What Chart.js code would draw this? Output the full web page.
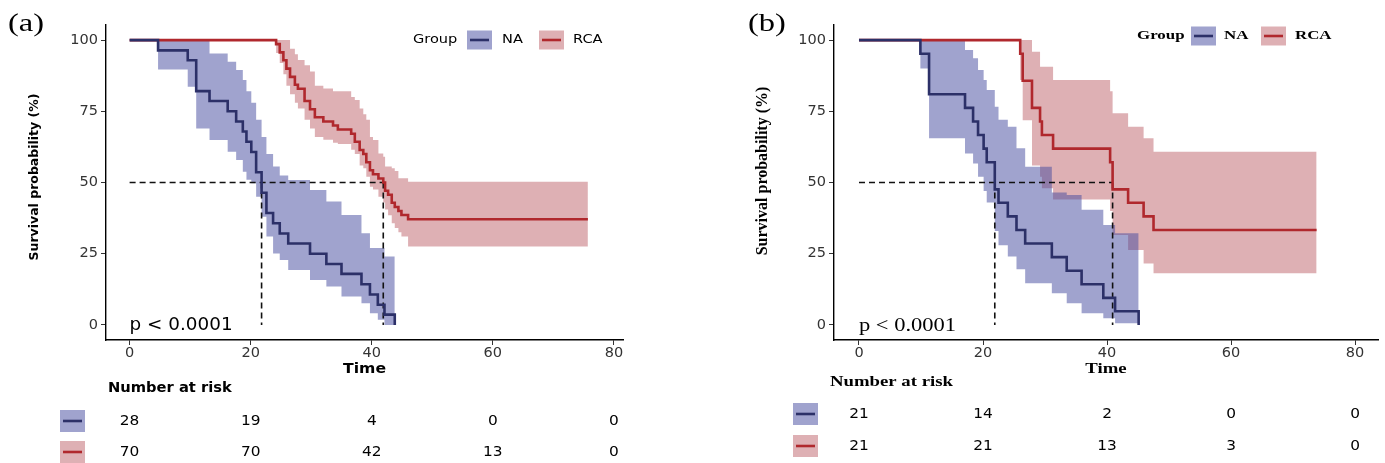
<!DOCTYPE html>
<html>
<head>
<meta charset="utf-8">
<script src="https://cdn.jsdelivr.net/npm/chart.js@4.4.1/dist/chart.umd.min.js"></script>
<style>
  body { margin: 0; background: #fff; }
  #wrap { position: relative; width: 1385px; height: 463px; overflow: hidden; }
  canvas { position: absolute; top: 0; }
</style>
</head>
<body>
<div id="wrap">
  <canvas id="chartA" width="692" height="463" style="left:0"></canvas>
  <canvas id="chartB" width="693" height="463" style="left:692px"></canvas>
</div>
<script>
const xTicks = [0, 20, 40, 60, 80];
const yTicks = [0, 25, 50, 75, 100];
const groups = ["NA", "RCA"];

// panel (a)
const aNaTime = [0, 4.7, 9.6, 11.0, 13.2, 16.2, 17.6, 18.7, 19.3, 20.1, 20.9, 21.8, 22.6, 23.7, 24.8, 26.2, 29.8, 32.5, 35.0, 38.3, 39.7, 41.0, 42.1, 43.8];
const aNaSurv = [100, 96.4, 92.9, 82.1, 78.6, 75.0, 71.4, 67.9, 64.3, 60.7, 53.6, 46.4, 39.3, 35.7, 32.1, 28.6, 25.0, 21.4, 17.9, 14.3, 10.7, 7.1, 3.6, 0];
const aNaUpper = [100, 100, 100, 100, 95.3, 92.4, 89.5, 86.0, 82.0, 78.0, 72.0, 66.0, 60.0, 55.6, 52.5, 50.9, 47.4, 43.3, 38.6, 32.2, 27.0, 27.0, 24.0, 24.0];
const aNaLower = [100, 89.7, 83.6, 69.0, 64.9, 60.8, 57.9, 53.8, 51.0, 49.7, 45.0, 38.0, 31.0, 25.1, 22.8, 19.3, 15.8, 13.5, 10.0, 7.6, 4.1, 1.8, 0, 0];

const aRcaTime = [0, 24.2, 24.8, 25.4, 25.9, 26.5, 27.3, 27.8, 28.9, 29.8, 30.6, 32.0, 33.6, 34.4, 36.6, 37.2, 38.0, 38.6, 39.1, 39.7, 40.2, 41.1, 41.9, 42.2, 42.7, 43.3, 43.8, 44.4, 44.9, 46.0, 75.7];
const aRcaSurv = [100, 98.6, 95.7, 92.9, 90.0, 87.1, 84.3, 82.9, 78.6, 75.7, 72.9, 71.4, 70.0, 68.6, 67.1, 64.3, 61.4, 60.0, 57.1, 54.3, 52.9, 51.4, 50.0, 47.1, 45.7, 42.9, 41.4, 40.0, 38.6, 37.1, 37.1];
const aRcaUpper = [100, 100, 100, 100, 100, 97, 95, 93, 91.2, 89, 84, 83, 82, 82, 80, 79, 76, 74, 72, 66, 64.9, 60.2, 59, 55.6, 55.6, 55, 54, 51.5, 51.5, 50.3, 50.3];
const aRcaLower = [100, 95.5, 92, 88, 84, 81, 78, 76, 72, 69, 66, 65, 64, 63.5, 61.5, 60, 56, 55, 52, 48.5, 47.5, 45, 43, 40.5, 38.5, 35.7, 34, 32.5, 31, 27.5, 27.5];

const aMedian = [21.8, 41.9];
const aRiskNA = [28, 19, 4, 0, 0];
const aRiskRCA = [70, 70, 42, 13, 0];

// panel (b)
const bNaTime = [0, 9.9, 11.3, 17.1, 18.4, 19.2, 20.1, 20.6, 21.9, 22.5, 24.0, 25.4, 26.8, 31.1, 33.5, 35.9, 39.4, 41.3, 45.1];
const bNaSurv = [100, 95.2, 81.0, 76.2, 71.4, 66.7, 61.9, 57.1, 47.6, 42.9, 38.1, 33.3, 28.6, 23.8, 19.0, 14.3, 9.5, 4.8, 0];
const bNaUpper = [100, 100, 100, 96.5, 93.6, 89.5, 86.0, 82.5, 76.6, 72.0, 69.6, 62.0, 55.5, 46.5, 45.6, 40.4, 35.1, 32.2, 32.2];
const bNaLower = [100, 90.0, 65.5, 60.2, 56.7, 52.0, 47.0, 43.0, 33.0, 28.0, 24.0, 19.5, 14.6, 11.1, 7.6, 4.1, 2.3, 0.6, 0.6];

const bRcaTime = [0, 26.0, 26.4, 27.9, 29.2, 29.5, 31.3, 40.5, 40.9, 43.4, 45.9, 47.5, 73.8];
const bRcaSurv = [100, 95.2, 85.7, 76.2, 71.4, 66.7, 61.9, 57.1, 47.6, 42.9, 38.1, 33.3, 33.3];
const bRcaUpper = [100, 100, 100, 95.9, 90.6, 90.6, 86.0, 82.0, 74.3, 69.6, 65.5, 60.8, 60.8];
const bRcaLower = [100, 86.0, 71.9, 56.0, 52.0, 48.0, 44.0, 40.0, 31.6, 26.3, 21.6, 18.1, 18.1];

const bMedian = [21.9, 40.9];
const bRiskNA = [21, 14, 2, 0, 0];
const bRiskRCA = [21, 21, 13, 3, 0];

const NA_LINE = "#2c3068";
const NA_FILL = "rgba(66,71,158,0.5)";
const RCA_LINE = "#b0282d";
const RCA_FILL = "rgba(182,79,88,0.45)";
const SANS = "'DejaVu Sans', sans-serif";
const SERIF = "'Liberation Serif', serif";

function pts(t, v) {
  return t.map((x, i) => ({ x: x, y: v[i] }));
}

function stepLine(data, color) {
  return { data: data, borderColor: color, borderWidth: 2.6, stepped: "before", pointRadius: 0, fill: false };
}

function band(data, color, fill) {
  return { data: data, borderWidth: 0, borderColor: "rgba(0,0,0,0)", backgroundColor: color, stepped: "before", pointRadius: 0, fill: fill };
}

function dash(data) {
  return { data: data, borderColor: "#111", borderWidth: 1.6, borderDash: [6, 4], pointRadius: 0, fill: false };
}

function txt(ctx, s, x, y, font, align, sx) {
  ctx.save();
  ctx.font = font;
  ctx.translate(x, y);
  ctx.scale(sx || 1, 1);
  ctx.textAlign = align || "left";
  ctx.textBaseline = "middle";
  ctx.fillStyle = "#000";
  ctx.fillText(s, 0, 0);
  ctx.restore();
}

function keyBox(ctx, x, y, w, h, fill, line) {
  ctx.save();
  ctx.fillStyle = fill;
  ctx.fillRect(x, y, w, h);
  ctx.strokeStyle = line;
  ctx.lineWidth = 2.6;
  ctx.beginPath();
  ctx.moveTo(x + 3, y + h / 2);
  ctx.lineTo(x + w - 3, y + h / 2);
  ctx.stroke();
  ctx.restore();
}

function extras(p) {
  return {
    id: "extras" + p.tag,
    afterDraw(chart) {
      const ctx = chart.ctx;
      const xs = chart.scales.x;
      const ys = chart.scales.y;
      const area = chart.chartArea;
      const tf = p.serif ? SERIF : SANS;
      const sx = p.serif ? 1.25 : 1.08;

      txt(ctx, p.label, p.labelX, 24, "26px " + SERIF, "left", 1.25);

      // y title
      ctx.save();
      ctx.font = "bold " + (p.serif ? "16px " : "12.5px ") + tf;
      ctx.translate(p.yTitleX, p.yTitleY);
      ctx.rotate(-Math.PI / 2);
      ctx.textAlign = "center";
      ctx.textBaseline = "middle";
      ctx.fillStyle = "#000";
      ctx.fillText("Survival probability (%)", 0, 0);
      ctx.restore();

      txt(ctx, "Time", (area.left + area.right) / 2, 369, "bold " + (p.serif ? "15px " : "14px ") + tf, "center", p.serif ? 1.25 : 1.12);

      // legend
      const lg = p.legend;
      const lf = (p.serif ? "bold 13.5px " : "13px ") + tf;
      const lsx = p.serif ? 1.25 : 1.12;
      txt(ctx, "Group", lg.group, lg.y, lf, "left", lsx);
      keyBox(ctx, lg.box1, lg.y - 9.5, 25, 19, NA_FILL, NA_LINE);
      txt(ctx, groups[0], lg.t1, lg.y, lf, "left", lsx);
      keyBox(ctx, lg.box2, lg.y - 9.5, 25, 19, RCA_FILL, RCA_LINE);
      txt(ctx, groups[1], lg.t2, lg.y, lf, "left", lsx);

      txt(ctx, "p < 0.0001", xs.getPixelForValue(0), ys.getPixelForValue(0) + 1, (p.serif ? "18px " : "17px ") + tf, "left", sx);

      // risk table
      txt(ctx, "Number at risk", p.riskTitleX, p.riskTitleY, "bold " + (p.serif ? "15px " : "14px ") + tf, "left", p.serif ? 1.25 : 1.05);
      const rows = [p.riskNA, p.riskRCA];
      const fills = [NA_FILL, RCA_FILL];
      const lines = [NA_LINE, RCA_LINE];
      rows.forEach((r, g) => {
        const y = p.rowY[g];
        keyBox(ctx, p.iconX, y - 11, 25, 22, fills[g], lines[g]);
        r.forEach((n, i) => {
          txt(ctx, String(n), xs.getPixelForValue(xTicks[i]), y, "14.5px " + SANS, "center", 1.06);
        });
      });
    }
  };
}

function makeChart(id, p) {
  const canvas = document.getElementById(id);
  const W = canvas.width, H = canvas.height;
  const datasets = [
    stepLine(pts(p.naTime, p.naSurv), NA_LINE),
    stepLine(pts(p.rcaTime, p.rcaSurv), RCA_LINE),
    dash([{ x: 0, y: 50 }, { x: p.median[1], y: 50 }]),
    dash([{ x: p.median[0], y: 50 }, { x: p.median[0], y: 0 }]),
    dash([{ x: p.median[1], y: 50 }, { x: p.median[1], y: 0 }]),
    band(pts(p.naTime, p.naUpper), NA_FILL, "+1"),
    band(pts(p.naTime, p.naLower), NA_FILL, false),
    band(pts(p.rcaTime, p.rcaUpper), RCA_FILL, "+1"),
    band(pts(p.rcaTime, p.rcaLower), RCA_FILL, false)
  ];
  const tickFont = { family: "'DejaVu Sans', sans-serif", size: 14.5 };
  return new Chart(canvas, {
    type: "line",
    data: { datasets: datasets },
    options: {
      responsive: false,
      animation: false,
      devicePixelRatio: 1,
      layout: { padding: { left: 0, right: W - p.area.right, top: p.area.top, bottom: 0 } },
      plugins: { legend: { display: false }, tooltip: { enabled: false } },
      scales: {
        x: {
          type: "linear",
          min: p.xMin,
          max: p.xMax,
          afterBuildTicks: (s) => { s.ticks = xTicks.map((v) => ({ value: v })); },
          afterFit: (s) => { s.height = H - p.area.bottom; },
          grid: { display: true, drawOnChartArea: false, drawTicks: true, tickLength: 5, color: "#333", lineWidth: 1 },
          border: { display: true, color: "#000", width: 1.4 },
          ticks: { font: tickFont, color: "#333", padding: 0, maxRotation: 0 }
        },
        y: {
          type: "linear",
          min: -5.3,
          max: 105.3,
          afterBuildTicks: (s) => { s.ticks = yTicks.map((v) => ({ value: v })); },
          afterFit: (s) => { s.width = p.area.left; },
          grid: { display: true, drawOnChartArea: false, drawTicks: true, tickLength: 5, color: "#333", lineWidth: 1 },
          border: { display: true, color: "#000", width: 1.4 },
          ticks: { font: tickFont, color: "#333", padding: 3 }
        }
      }
    },
    plugins: [extras(p)]
  });
}

makeChart("chartA", {
  tag: "A", serif: false, label: "(a)", labelX: 8,
  area: { left: 106, right: 623, top: 25, bottom: 340 },
  xMin: -3.9, xMax: 81.5,
  yTitleX: 35, yTitleY: 177,
  legend: { y: 40, group: 413, box1: 467, t1: 502, box2: 539, t2: 573 },
  riskTitleX: 108, riskTitleY: 388, iconX: 60, rowY: [421, 452],
  naTime: aNaTime, naSurv: aNaSurv, naUpper: aNaUpper, naLower: aNaLower,
  rcaTime: aRcaTime, rcaSurv: aRcaSurv, rcaUpper: aRcaUpper, rcaLower: aRcaLower,
  median: aMedian, riskNA: aRiskNA, riskRCA: aRiskRCA
});

makeChart("chartB", {
  tag: "B", serif: true, label: "(b)", labelX: 56,
  area: { left: 142, right: 686, top: 25, bottom: 340 },
  xMin: -4.03, xMax: 83.7,
  yTitleX: 71, yTitleY: 171,
  legend: { y: 36, group: 445, box1: 499, t1: 532, box2: 569, t2: 603 },
  riskTitleX: 138, riskTitleY: 382, iconX: 101, rowY: [414, 446],
  naTime: bNaTime, naSurv: bNaSurv, naUpper: bNaUpper, naLower: bNaLower,
  rcaTime: bRcaTime, rcaSurv: bRcaSurv, rcaUpper: bRcaUpper, rcaLower: bRcaLower,
  median: bMedian, riskNA: bRiskNA, riskRCA: bRiskRCA
});
</script>
</body>
</html>
